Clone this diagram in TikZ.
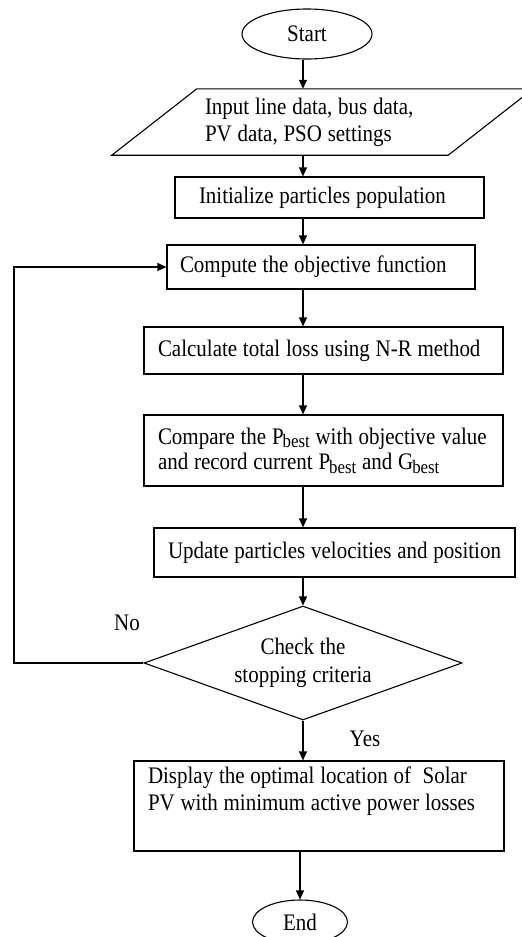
\documentclass[tikz,border=0pt]{standalone}
\usepackage{fontspec}
\setmainfont{Liberation Serif}[FakeStretch=0.885, WordSpace=1.1]
\usetikzlibrary{shapes.geometric,arrows.meta}
\newcommand{\subbest}[1]{\kern-1pt\raisebox{-3.5pt}{\fontsize{19}{20}\selectfont #1}}
\begin{document}
\begin{tikzpicture}[x=1pt,y=-1pt,
  every node/.style={font=\fontsize{23.7}{27}\selectfont},
  proc/.style={draw, line width=1.2pt, rectangle, align=flush left, inner sep=0pt},
  term/.style={draw, line width=1.1pt, ellipse, inner sep=0pt},
  decision/.style={draw, line width=1.1pt, diamond, aspect=2.79, inner sep=0pt, align=flush center},
  arr/.style={line width=1.2pt, -{Triangle[length=9pt,width=8pt]}},
  lbl/.style={inner sep=0pt}]
\useasboundingbox (0,0) rectangle (522,937);
\coordinate (axis) at (303,0);
\coordinate (loopx) at (14,0);
% nodes
\node[term, minimum width=130, minimum height=50] (start) at (307,34) {Start};
\node[lbl, minimum width=336, minimum height=66, text width=235, align=flush left] (input) at (322.5,122)
  {\mbox{Input line data, bus data,}\\\mbox{PV data, PSO settings}};
\draw[line width=1.1pt] ([xshift=-42.5]input.south west) -- ([xshift=42.5]input.north west)
  -- ([xshift=42.5]input.north east) -- ([xshift=-42.5]input.south east) -- cycle;
\node[proc, minimum width=309, minimum height=41, text width=261] (init) at (329.5,197.5)
  {\mbox{Initialize particles population}};
\node[proc, minimum width=308, minimum height=44, text width=282] (comp) at (321,267)
  {\mbox{Compute the objective function}};
\node[proc, minimum width=359, minimum height=47, text width=331] (calc) at (323.5,350.5)
  {\mbox{Calculate total loss using N-R method}};
\node[proc, minimum width=359, minimum height=71, text width=331, font=\fontsize{23.7}{25.5}\selectfont] (cmp) at (323.5,450.5)
  {\mbox{Compare the P\subbest{best} with objective value}\\\mbox{and record current P\subbest{best} and G\subbest{best}}};
\node[proc, minimum width=361, minimum height=49, text width=333] (upd) at (334.5,552.5)
  {\mbox{Update particles velocities and position}};
\node[decision, minimum width=318, minimum height=114, font=\fontsize{23.7}{28}\selectfont] (check) at (303,663)
  {Check the\\stopping criteria};
\node[proc, minimum width=370, minimum height=90, text width=342] (disp) at (319,806)
  {\mbox{Display the optimal location of\ \ Solar}\\\mbox{PV with minimum active power losses}\\\strut};
\node[term, minimum width=95, minimum height=44] (stop) at (300,922) {End};
\node[lbl] (no) at (127,623) {No};
\node[lbl] (yes) at (365,739) {Yes};
% connectors
\draw[arr] (start.south -| axis) -- (input.north -| axis);
\draw[arr] (input.south -| axis) -- (init.north -| axis);
\draw[arr] (init.south -| axis) -- (comp.north -| axis);
\draw[arr] (comp.south -| axis) -- (calc.north -| axis);
\draw[arr] (calc.south -| axis) -- (cmp.north -| axis);
\draw[arr] (cmp.south -| axis) -- (upd.north -| axis);
\draw[arr] (upd.south -| axis) -- (check.north);
\draw[arr] (check.west) -- (check.west -| loopx) |- (comp.west);
\draw[arr] (check.south) -- (disp.north -| check.south);
\draw[arr] (disp.south -| stop.north) -- (stop.north);
\end{tikzpicture}
\end{document}
